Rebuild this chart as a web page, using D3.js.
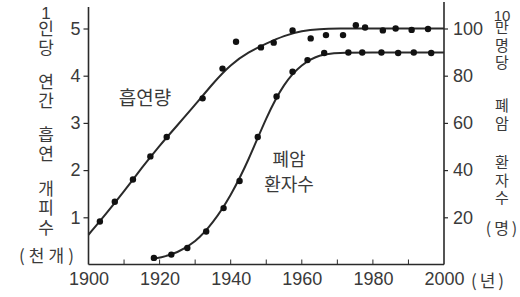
<!DOCTYPE html>
<html><head><meta charset="utf-8">
<script src="https://cdn.jsdelivr.net/npm/d3@7"></script>
<style>
html,body{margin:0;padding:0;background:#fff;}
svg{display:block;}
</style></head>
<body>
<svg id="chart" width="520" height="297"></svg>
<script>
// ---- data ----
const xTicks = [1900, 1920, 1940, 1960, 1980, 2000];
const xMinorTicks = [1910, 1930, 1950, 1970, 1990];
const leftTicks = [1, 2, 3, 4, 5];
const rightTicks = [20, 40, 60, 80, 100];

// 흡연량 (1인당 연간 흡연 개피수, 천개) - observed points
const smokeYears  = [1903.2, 1907.4, 1912.5, 1917.4, 1922.0, 1932.1, 1937.7, 1941.5, 1948.5, 1952.1, 1957.4, 1962.5, 1966.8, 1971.6, 1975.2, 1977.8, 1982.8, 1986.4, 1990.9, 1995.5];
const smokeValues = [0.91, 1.33, 1.80, 2.29, 2.70, 3.52, 4.15, 4.72, 4.60, 4.70, 4.96, 4.79, 4.86, 4.86, 5.07, 5.02, 4.96, 5.00, 4.97, 4.99];
// 흡연량 fitted curve
const smokeCurveYears  = [1900, 1905, 1910, 1915, 1920, 1925, 1930, 1935, 1940, 1945, 1950, 1955, 1960, 1965, 1970, 1980, 1990, 2000];
const smokeCurveValues = [0.63, 1.08, 1.55, 2.05, 2.52, 2.95, 3.38, 3.84, 4.24, 4.50, 4.68, 4.85, 4.95, 4.99, 5.0, 5.0, 5.0, 5.0];

// 폐암 환자수 (10만명당, 명) - observed points
const cancerYears  = [1918.4, 1923.3, 1927.8, 1933.1, 1938.0, 1942.5, 1947.6, 1952.9, 1957.4, 1961.6, 1966.3, 1973.1, 1977.0, 1982.4, 1987.1, 1991.5, 1996.4];
const cancerValues = [2.8, 4.2, 7.0, 14.0, 23.9, 35.4, 54.0, 71.2, 81.7, 86.6, 89.6, 89.8, 89.8, 89.8, 89.6, 89.8, 89.6];
// 폐암 fitted curve
const cancerCurveYears  = [1918, 1920, 1925, 1930, 1935, 1940, 1945, 1950, 1955, 1960, 1965, 1970, 1980, 1990, 2000];
const cancerCurveValues = [2.5, 2.8, 4.9, 9.3, 17.5, 29.0, 44.0, 62.5, 77.0, 85.0, 89.0, 89.8, 89.8, 89.8, 89.8];

const leftNumber = "1";
const leftWords = ["인당", "연간", "흡연", "개피수"];
const leftUnit = "(천개)";
const rightNumber = "10";
const rightWords = ["만명당", "폐암", "환자수"];
const rightUnit = "(명)";
const xUnit = "(년)";
const smokeLabel = "흡연량";
const cancerLabel = ["폐암", "환자수"];

// ---- drawing ----
const svg = d3.select("#chart");
const INK = "#2a2a2a";
const TXT = "#3a3a3a";
const NUMFONT = "'Liberation Sans', Arial, sans-serif";
const KFONT = "'Noto Sans CJK KR', 'Noto Sans', sans-serif";

const x = d3.scaleLinear().domain([1900, 2000]).range([88.5, 444]);
const yL = d3.scaleLinear().domain([0, 5]).range([264.5, 28.5]);
const yR = d3.scaleLinear().domain([0, 100]).range([264.5, 28.5]);

// axes lines
const gAx = svg.append("g").attr("stroke", INK).attr("stroke-width", 1.6).attr("fill", "none");
gAx.append("line").attr("x1", x(1900)).attr("x2", x(1900)).attr("y1", 7).attr("y2", yL(0));
gAx.append("line").attr("x1", x(2000)).attr("x2", x(2000)).attr("y1", 2).attr("y2", yL(0));
gAx.append("line").attr("x1", x(1900)).attr("x2", x(2000)).attr("y1", yL(0)).attr("y2", yL(0));

// left ticks
const gLeft = svg.append("g").attr("transform", `translate(${x(1900)},0)`)
  .call(d3.axisLeft(yL).tickValues(leftTicks).tickSize(5).tickPadding(3).tickFormat(d3.format("d")));
gLeft.select(".domain").remove();
gLeft.selectAll("line").attr("stroke", INK).attr("stroke-width", 1.2);
gLeft.selectAll("text").attr("font-family", NUMFONT).attr("font-size", 18).attr("fill", TXT);

// right ticks
const gRight = svg.append("g").attr("transform", `translate(${x(2000)},0)`)
  .call(d3.axisRight(yR).tickValues(rightTicks).tickSize(4).tickPadding(5).tickFormat(d3.format("d")));
gRight.select(".domain").remove();
gRight.selectAll("line").attr("stroke", INK).attr("stroke-width", 1.2);
gRight.selectAll("text").attr("font-family", NUMFONT).attr("font-size", 18).attr("fill", TXT);

// bottom axis labels
const gBot = svg.append("g").attr("transform", `translate(0,${yL(0)})`)
  .call(d3.axisBottom(x).tickValues(xTicks).tickSize(0).tickPadding(8).tickFormat(d3.format("d")));
gBot.select(".domain").remove();
gBot.selectAll("text").attr("font-family", NUMFONT).attr("font-size", 18).attr("fill", TXT);
// minor/major ticks upward
svg.append("g").selectAll("line").data(xTicks.concat(xMinorTicks).filter(d => d > 1900 && d < 2000))
  .join("line")
  .attr("x1", d => x(d)).attr("x2", d => x(d))
  .attr("y1", yL(0)).attr("y2", yL(0) - 5)
  .attr("stroke", INK).attr("stroke-width", 1);

svg.append("text").text(xUnit)
  .attr("x", 489).attr("y", 286.5).attr("text-anchor", "middle")
  .style("letter-spacing", "3px")
  .attr("font-family", KFONT).attr("font-size", 17).attr("fill", TXT);

// curves
const lineL = d3.line().x(d => x(d[0])).y(d => yL(d[1])).curve(d3.curveBasis);
const lineR = d3.line().x(d => x(d[0])).y(d => yR(d[1])).curve(d3.curveBasis);

svg.append("path").datum(d3.zip(smokeCurveYears, smokeCurveValues))
  .attr("d", lineL).attr("fill", "none").attr("stroke", INK).attr("stroke-width", 2);
svg.append("path").datum(d3.zip(cancerCurveYears, cancerCurveValues))
  .attr("d", lineR).attr("fill", "none").attr("stroke", INK).attr("stroke-width", 2);

svg.append("g").selectAll("circle").data(d3.zip(smokeYears, smokeValues)).join("circle")
  .attr("cx", d => x(d[0])).attr("cy", d => yL(d[1])).attr("r", 3.2).attr("fill", "#111");
svg.append("g").selectAll("circle").data(d3.zip(cancerYears, cancerValues)).join("circle")
  .attr("cx", d => x(d[0])).attr("cy", d => yR(d[1])).attr("r", 3.2).attr("fill", "#111");

// in-plot labels
svg.append("text").text(smokeLabel)
  .attr("x", 145).attr("y", 105).attr("text-anchor", "middle")
  .attr("font-family", KFONT).attr("font-size", 19).attr("fill", TXT);
svg.selectAll(".cl").data(cancerLabel).join("text")
  .text(d => d)
  .attr("x", 289).attr("y", (d, i) => 166 + i * 25).attr("text-anchor", "middle")
  .attr("font-family", KFONT).attr("font-size", 18).attr("fill", TXT);

// vertical titles: each word is one vertical text
function hText(s, cx, cy, size, font, spacing) {
  svg.append("text").text(s)
    .attr("x", cx).attr("y", cy)
    .attr("text-anchor", "middle").attr("dominant-baseline", "central")
    .style("letter-spacing", (spacing || 0) + "px")
    .attr("font-family", font).attr("font-size", size).attr("fill", TXT);
}
function vWords(words, cx, tops, size, spacing) {
  words.forEach((w, i) => {
    svg.append("text").text(w)
      .attr("x", cx).attr("y", tops[i])
      .style("writing-mode", "vertical-rl")
      .style("letter-spacing", spacing + "px")
      .attr("font-family", KFONT).attr("font-size", size).attr("fill", TXT);
  });
}
hText(leftNumber, 46, 13.5, 17, NUMFONT);
vWords(leftWords, 46, [20, 73, 126, 180], 17, 2.5);
hText(leftUnit, 48.5, 254, 17, KFONT, 4);

hText(rightNumber, 502, 15, 15, NUMFONT);
vWords(rightWords, 502, [20, 98, 155], 15, 2.5);
hText(rightUnit, 503, 227, 16, KFONT, 3);
</script>
</body></html>
